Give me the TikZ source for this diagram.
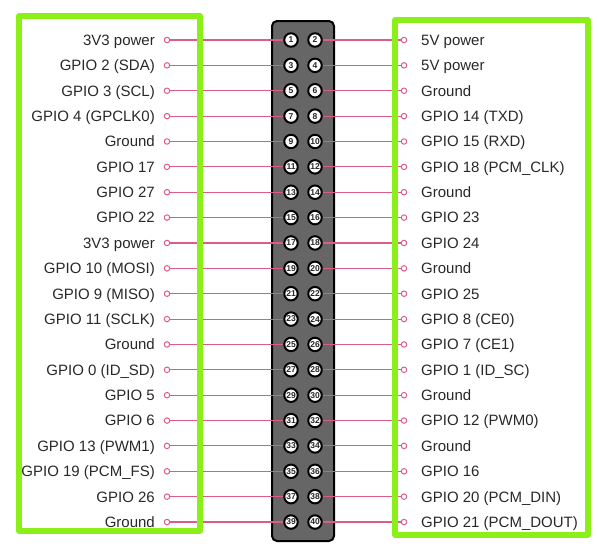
\documentclass[tikz,border=0pt]{standalone}
\usepackage{fontspec}
\setmainfont{Liberation Sans}
\definecolor{pinline}{RGB}{222,92,132}
\definecolor{boxgreen}{RGB}{138,240,24}
\definecolor{headgray}{RGB}{102,102,102}
\definecolor{labelgray}{RGB}{40,40,40}
\tikzset{
  pinhole/.style={circle, draw=black, line width=2pt, fill=white, minimum size=13.5pt, inner sep=0pt, text=labelgray, font=\bfseries\fontsize{8.5}{9}\selectfont},
  endring/.style={circle, draw=pinline, line width=1pt, fill=white, minimum size=5.5pt, inner sep=0pt},
  wire/.style={pinline, line width=1.1pt},
  greenframe/.style={draw=boxgreen, line width=5.5pt},
  pintext/.style={text=labelgray, font=\fontsize{15}{18}\selectfont, inner sep=0pt, text height=10.8pt, text depth=0pt}
}
\begin{document}
\begin{tikzpicture}[x=1pt, y=-1pt, line join=round]
  \useasboundingbox (0,0) rectangle (598,544);
  % header block
  \draw[fill=headgray, line width=2pt, rounded corners=5pt] (272,21) rectangle (334,541);
  % odd pins, left side
  \foreach \txt [count=\i from 0, evaluate=\i as \y using 40+25.37*\i, evaluate=\i as \n using int(2*\i+1)] in
    {3V3 power, GPIO 2 (SDA), GPIO 3 (SCL), GPIO 4 (GPCLK0), Ground, GPIO 17, GPIO 27, GPIO 22, 3V3 power,
     GPIO 10 (MOSI), GPIO 9 (MISO), GPIO 11 (SCLK), Ground, GPIO 0 (ID\_SD), GPIO 5, GPIO 6, GPIO 13 (PWM1),
     GPIO 19 (PCM\_FS), GPIO 26, Ground}
  {
    \node[pinhole] (p\n) at (291,\y) {\n};
    \node[endring] (e\n) at (167,\y) {};
    \node[pintext, anchor=east] (t\n) at (155,\y) {\txt};
    \draw[wire] (e\n) -- (p\n);
  }
  % even pins, right side
  \foreach \txt [count=\i from 0, evaluate=\i as \y using 40+25.37*\i, evaluate=\i as \n using int(2*\i+2)] in
    {5V power, 5V power, Ground, GPIO 14 (TXD), GPIO 15 (RXD), GPIO 18 (PCM\_CLK), Ground, GPIO 23, GPIO 24,
     Ground, GPIO 25, GPIO 8 (CE0), GPIO 7 (CE1), GPIO 1 (ID\_SC), Ground, GPIO 12 (PWM0), Ground, GPIO 16,
     GPIO 20 (PCM\_DIN), GPIO 21 (PCM\_DOUT)}
  {
    \node[pinhole] (p\n) at (315,\y) {\n};
    \node[endring] (e\n) at (404,\y) {};
    \node[pintext, anchor=west] (t\n) at (421,\y) {\txt};
    \draw[wire] (p\n) -- (e\n);
  }
  % green frames
  \draw[greenframe] (19,16) rectangle (200,531);
  \draw[greenframe] (395,20) rectangle (588,535);
\end{tikzpicture}
\end{document}
